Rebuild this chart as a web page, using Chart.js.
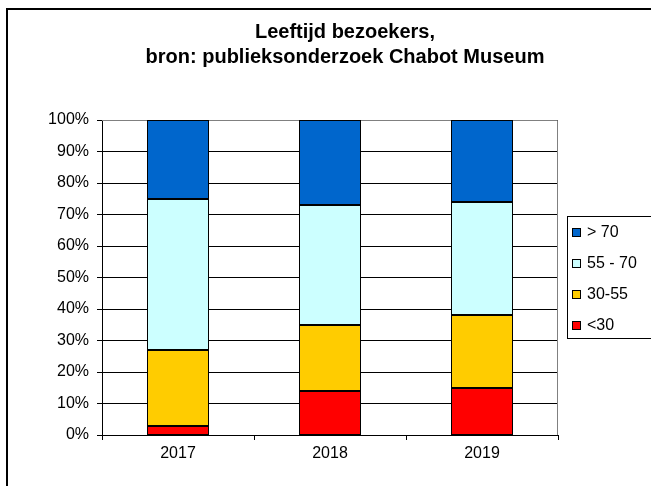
<!DOCTYPE html>
<html>
<head>
<meta charset="utf-8">
<script src="https://cdn.jsdelivr.net/npm/chart.js@4"></script>
<style>
  html, body { margin: 0; padding: 0; background: #fff; }
  canvas { display: block; }
</style>
</head>
<body>
<canvas id="chart" width="651" height="486"></canvas>
<script>
// data (percent of visitors per age group)
const years    = ['2017', '2018', '2019']
const under30  = [3, 14, 15]
const age30_55 = [24, 21, 23]
const age55_70 = [48, 38, 36]
const over70   = [25, 27, 26]
const titleLines = ['Leeftijd bezoekers,', 'bron: publieksonderzoek Chabot Museum']

const FONT = "'Liberation Sans', Arial, sans-serif"

// outer frame + title
const framePlugin = {
  id: 'frame',
  beforeDraw(chart) {
    const c = chart.ctx
    c.save()
    c.fillStyle = '#fff'
    c.fillRect(0, 0, chart.width, chart.height)
    c.strokeStyle = '#000'
    c.lineWidth = 2
    c.strokeRect(7, 9, 700, 520)
    c.fillStyle = '#000'
    c.font = 'bold 20px ' + FONT
    c.textAlign = 'center'
    c.textBaseline = 'middle'
    c.fillText(titleLines[0], 345, 32)
    c.fillText(titleLines[1], 345, 57)
    c.restore()
  },
  beforeDatasetsDraw(chart) {
    // gray plot border top + right
    const a = chart.chartArea, c = chart.ctx
    c.save()
    c.strokeStyle = '#808080'
    c.lineWidth = 1
    c.beginPath()
    c.moveTo(a.left, a.top + 0.5)
    c.lineTo(a.right - 0.5, a.top + 0.5)
    c.lineTo(a.right - 0.5, a.bottom)
    c.stroke()
    c.restore()
  },
  afterDatasetsDraw(chart) {
    // crisp 1px black outline around every bar segment
    const c = chart.ctx
    c.save()
    c.strokeStyle = '#000'
    c.lineWidth = 1
    chart.data.datasets.forEach((d, i) => {
      chart.getDatasetMeta(i).data.forEach(el => {
        const l = Math.round(el.x - el.width / 2) + 0.5
        const r = Math.round(el.x + el.width / 2) - 0.5
        const t = Math.round(Math.min(el.y, el.base)) + 0.5
        const b = Math.round(Math.max(el.y, el.base)) - 0.5
        c.strokeRect(l, t, r - l, b - t)
      })
    })
    c.restore()
  }
}

// boxed legend on the right, top series first
const legendPlugin = {
  id: 'boxLegend',
  afterDraw(chart) {
    const c = chart.ctx
    const ds = chart.data.datasets.slice().reverse()
    c.save()
    c.strokeStyle = '#000'
    c.lineWidth = 1
    c.strokeRect(567.5, 216.5, 120, 122)
    c.font = '16px ' + FONT
    c.textBaseline = 'middle'
    c.textAlign = 'left'
    ds.forEach((d, i) => {
      const y = 233 + i * 31
      c.fillStyle = d.backgroundColor
      c.fillRect(572.5, y - 4.5, 8, 8)
      c.strokeRect(572.5, y - 4.5, 8, 8)
      c.fillStyle = '#000'
      c.fillText(d.label, 587, y)
    })
    c.restore()
  }
}

const bar = (label, data, color) => ({
  label, data, backgroundColor: color, borderWidth: 0
})

new Chart(document.getElementById('chart'), {
  type: 'bar',
  data: {
    labels: years,
    datasets: [
      bar('<30', under30, '#FF0000'),
      bar('30-55', age30_55, '#FFCC00'),
      bar('55 - 70', age55_70, '#CCFFFF'),
      bar('> 70', over70, '#0066CC')
    ]
  },
  options: {
    responsive: false,
    animation: false,
    categoryPercentage: 1,
    barPercentage: 62 / 152,
    layout: { padding: { left: 7, right: 93, top: 120, bottom: 20 } },
    plugins: { legend: { display: false }, title: { display: false }, tooltip: { enabled: false } },
    scales: {
      x: {
        stacked: true,
        afterFit: s => { s.height = 31 },
        grid: { offset: true, drawOnChartArea: false, color: '#000', tickLength: 5 },
        border: { color: '#000', width: 1 },
        ticks: { color: '#000', font: { family: FONT, size: 16 }, padding: 4 }
      },
      y: {
        stacked: true,
        min: 0, max: 100,
        afterFit: s => { s.width = 95 },
        grid: { color: '#000', tickLength: 5 },
        border: { color: '#000', width: 1 },
        ticks: { stepSize: 10, color: '#000', font: { family: FONT, size: 16 }, padding: 8, callback: v => v + '%' }
      }
    }
  },
  plugins: [framePlugin, legendPlugin]
})
</script>
</body>
</html>
